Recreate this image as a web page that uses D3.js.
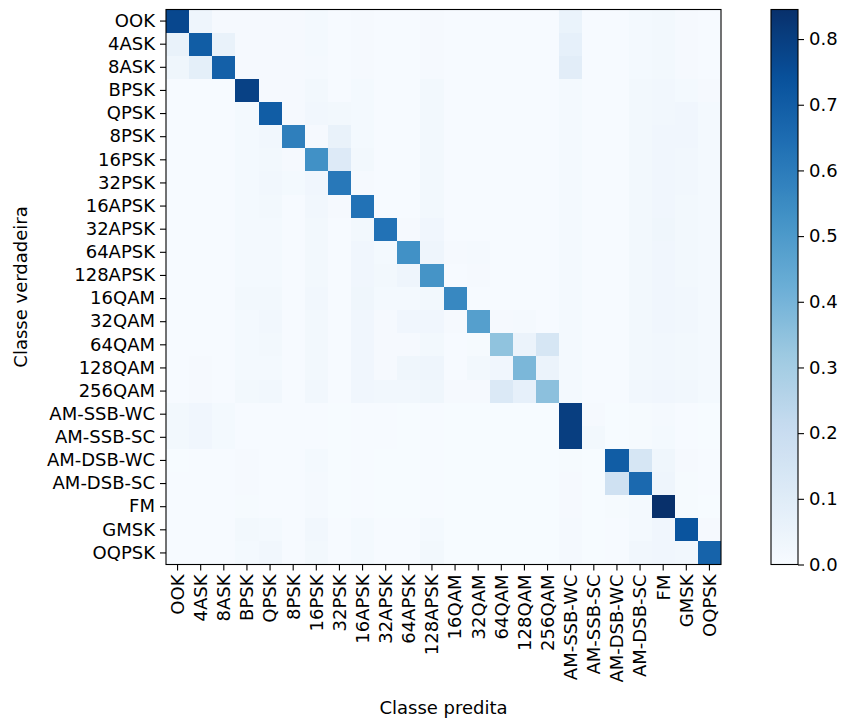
<!DOCTYPE html>
<html>
<head>
<meta charset="utf-8">
<script src="https://cdn.jsdelivr.net/npm/d3@7"></script>
<style>
  html, body { margin: 0; padding: 0; background: #ffffff; }
  svg text { font-family: "DejaVu Sans", sans-serif; fill: #000; }
  .axis text { font-size: 18px; }
  .axis path, .axis line { stroke: #000; stroke-width: 1.1; }
</style>
</head>
<body>
<svg id="chart" width="845" height="722"></svg>
<script>
// Modulation classes (rows = true class, columns = predicted class)
const classes = ["OOK","4ASK","8ASK","BPSK","QPSK","8PSK","16PSK","32PSK","16APSK","32APSK",
  "64APSK","128APSK","16QAM","32QAM","64QAM","128QAM","256QAM","AM-SSB-WC","AM-SSB-SC",
  "AM-DSB-WC","AM-DSB-SC","FM","GMSK","OQPSK"];

// Normalised confusion matrix, one row per true class
const rowOOK      = [0.77,0.04,0.01,0.01,0.01,0.01,0.015,0.005,0.01,0.005,0.005,0.01,0.005,0.005,0.005,0.005,0.005,0.055,0.005,0.005,0.015,0.02,0.01,0.005];
const row4ASK     = [0.06,0.70,0.06,0.01,0.01,0.01,0.015,0.005,0.01,0.005,0.005,0.01,0.005,0.005,0.005,0.005,0.005,0.07,0.005,0.005,0.015,0.02,0.01,0.005];
const row8ASK     = [0.035,0.08,0.69,0.01,0.01,0.01,0.012,0.005,0.01,0.005,0.005,0.01,0.005,0.005,0.005,0.005,0.005,0.09,0.005,0.005,0.015,0.02,0.01,0.005];
const rowBPSK     = [0.005,0.005,0.005,0.79,0.01,0.01,0.02,0.005,0.015,0.005,0.005,0.02,0.005,0.005,0.005,0.005,0.005,0.015,0.005,0.005,0.02,0.025,0.015,0.01];
const rowQPSK     = [0.005,0.005,0.005,0.015,0.70,0.01,0.025,0.02,0.015,0.005,0.005,0.02,0.005,0.005,0.005,0.005,0.005,0.015,0.005,0.005,0.02,0.025,0.03,0.015];
const row8PSK     = [0.005,0.005,0.005,0.015,0.025,0.59,0.01,0.06,0.015,0.005,0.005,0.02,0.005,0.005,0.005,0.005,0.005,0.015,0.005,0.005,0.02,0.03,0.03,0.015];
const row16PSK    = [0.005,0.005,0.005,0.015,0.02,0.01,0.53,0.11,0.02,0.005,0.005,0.02,0.005,0.005,0.005,0.005,0.005,0.015,0.005,0.005,0.02,0.03,0.025,0.015];
const row32PSK    = [0.005,0.005,0.005,0.015,0.025,0.015,0.03,0.61,0.01,0.005,0.005,0.02,0.005,0.005,0.005,0.005,0.005,0.015,0.005,0.005,0.02,0.03,0.025,0.015];
const row16APSK   = [0.005,0.005,0.005,0.015,0.02,0.005,0.025,0.01,0.63,0.005,0.005,0.02,0.005,0.005,0.005,0.005,0.005,0.015,0.005,0.005,0.02,0.03,0.02,0.015];
const row32APSK   = [0.005,0.005,0.005,0.015,0.015,0.005,0.02,0.005,0.02,0.63,0.01,0.03,0.005,0.005,0.005,0.005,0.005,0.015,0.005,0.005,0.02,0.035,0.02,0.015];
const row64APSK   = [0.005,0.005,0.005,0.015,0.015,0.005,0.02,0.005,0.03,0.015,0.53,0.04,0.01,0.012,0.005,0.005,0.005,0.015,0.005,0.005,0.02,0.03,0.02,0.015];
const row128APSK  = [0.005,0.005,0.005,0.015,0.015,0.005,0.02,0.005,0.03,0.02,0.04,0.52,0.005,0.01,0.005,0.005,0.005,0.015,0.005,0.005,0.02,0.03,0.02,0.015];
const row16QAM    = [0.005,0.005,0.005,0.02,0.02,0.005,0.025,0.005,0.035,0.015,0.015,0.02,0.56,0.005,0.005,0.005,0.005,0.015,0.005,0.005,0.02,0.03,0.025,0.015];
const row32QAM    = [0.005,0.005,0.005,0.015,0.025,0.005,0.02,0.005,0.03,0.01,0.03,0.03,0.01,0.48,0.01,0.012,0.005,0.015,0.005,0.005,0.02,0.03,0.025,0.015];
const row64QAM    = [0.005,0.005,0.005,0.015,0.02,0.005,0.02,0.005,0.03,0.01,0.01,0.02,0.005,0.008,0.345,0.05,0.14,0.015,0.005,0.005,0.02,0.025,0.02,0.015];
const row128QAM   = [0.005,0.01,0.005,0.015,0.015,0.005,0.02,0.005,0.03,0.01,0.035,0.04,0.005,0.02,0.03,0.39,0.05,0.015,0.005,0.005,0.02,0.025,0.02,0.015];
const row256QAM   = [0.005,0.01,0.005,0.02,0.025,0.005,0.025,0.005,0.03,0.025,0.025,0.035,0.01,0.01,0.12,0.07,0.355,0.015,0.005,0.005,0.025,0.03,0.025,0.015];
const rowAMSSBWC  = [0.02,0.03,0.015,0.005,0.005,0.005,0.005,0.003,0.005,0.005,0.003,0.005,0.003,0.003,0.003,0.003,0.003,0.80,0.01,0.003,0.008,0.012,0.005,0.003];
const rowAMSSBSC  = [0.02,0.03,0.015,0.005,0.005,0.005,0.005,0.003,0.005,0.005,0.003,0.005,0.003,0.003,0.003,0.003,0.003,0.80,0.02,0.003,0.008,0.015,0.005,0.003];
const rowAMDSBWC  = [0.003,0.005,0.005,0.01,0.005,0.005,0.015,0.003,0.005,0.003,0.003,0.005,0.003,0.003,0.003,0.003,0.003,0.008,0.003,0.70,0.14,0.035,0.01,0.005];
const rowAMDSBSC  = [0.005,0.005,0.005,0.01,0.005,0.005,0.012,0.003,0.005,0.003,0.003,0.005,0.003,0.003,0.003,0.003,0.003,0.01,0.003,0.17,0.66,0.04,0.008,0.005];
const rowFM       = [0.005,0.005,0.005,0.008,0.005,0.005,0.012,0.003,0.005,0.003,0.003,0.005,0.003,0.003,0.003,0.003,0.003,0.01,0.003,0.008,0.015,0.845,0.008,0.003];
const rowGMSK     = [0.005,0.005,0.005,0.02,0.015,0.005,0.025,0.005,0.015,0.005,0.005,0.015,0.003,0.003,0.003,0.003,0.003,0.012,0.003,0.005,0.015,0.03,0.73,0.01];
const rowOQPSK    = [0.005,0.005,0.005,0.015,0.025,0.005,0.02,0.005,0.015,0.005,0.005,0.02,0.003,0.003,0.003,0.003,0.003,0.012,0.003,0.005,0.025,0.03,0.025,0.68];

const matrix = [rowOOK,row4ASK,row8ASK,rowBPSK,rowQPSK,row8PSK,row16PSK,row32PSK,row16APSK,
  row32APSK,row64APSK,row128APSK,row16QAM,row32QAM,row64QAM,row128QAM,row256QAM,rowAMSSBWC,
  rowAMSSBSC,rowAMDSBWC,rowAMDSBSC,rowFM,rowGMSK,rowOQPSK];

const colorbarTicks = [0.0,0.1,0.2,0.3,0.4,0.5,0.6,0.7,0.8];
const xTitle = "Classe predita";
const yTitle = "Classe verdadeira";

// Sequential blue palette
const bluesStops = ["#f7fbff","#deebf7","#c6dbef","#9ecae1","#6baed6","#4292c6","#2171b5","#08519c","#08306b"];

const svg = d3.select("#chart");

const plot = { left: 166, right: 721, top: 9.5, bottom: 564.5 };
const vmax = d3.max(matrix, r => d3.max(r));
const vmin = 0;

const color = d3.scaleLinear()
  .domain(bluesStops.map((_, i) => vmin + (vmax - vmin) * i / (bluesStops.length - 1)))
  .range(bluesStops)
  .interpolate(d3.interpolateRgb)
  .clamp(true);

const x = d3.scaleBand().domain(classes).range([plot.left, plot.right]).padding(0);
const y = d3.scaleBand().domain(classes).range([plot.top, plot.bottom]).padding(0);

const cells = [];
matrix.forEach((row, i) => row.forEach((v, j) => cells.push({ t: classes[i], p: classes[j], v })));

svg.append("g")
  .selectAll("rect")
  .data(cells)
  .join("rect")
  .attr("x", d => x(d.p))
  .attr("y", d => y(d.t))
  .attr("width", x.bandwidth() + 0.3)
  .attr("height", y.bandwidth() + 0.3)
  .attr("fill", d => color(d.v))
  .attr("shape-rendering", "crispEdges");

// Frame
svg.append("rect")
  .attr("x", plot.left).attr("y", plot.top)
  .attr("width", plot.right - plot.left).attr("height", plot.bottom - plot.top)
  .attr("fill", "none").attr("stroke", "#000").attr("stroke-width", 1.1);

// Axes
const xAxis = svg.append("g")
  .attr("class", "axis")
  .attr("transform", `translate(0,${plot.bottom})`)
  .call(d3.axisBottom(x).tickSize(6).tickPadding(4));
xAxis.attr("font-family", null).attr("font-size", null);
xAxis.select(".domain").remove();
xAxis.selectAll("text")
  .attr("transform", "rotate(-90)")
  .attr("x", -10).attr("y", 0)
  .attr("dy", "0.35em")
  .style("text-anchor", "end");

const yAxis = svg.append("g")
  .attr("class", "axis")
  .attr("transform", `translate(${plot.left},0)`)
  .call(d3.axisLeft(y).tickSize(6).tickPadding(5));
yAxis.attr("font-family", null).attr("font-size", null);
yAxis.select(".domain").remove();

// Axis titles
svg.append("text")
  .attr("x", (plot.left + plot.right) / 2)
  .attr("y", 714)
  .attr("text-anchor", "middle")
  .style("font-size", "18px")
  .text(xTitle);

svg.append("text")
  .attr("transform", `translate(27,${(plot.top + plot.bottom) / 2}) rotate(-90)`)
  .attr("text-anchor", "middle")
  .style("font-size", "18px")
  .text(yTitle);

// Colour bar
const cb = { left: 771, right: 798, top: plot.top, bottom: plot.bottom };
const defs = svg.append("defs");
const grad = defs.append("linearGradient")
  .attr("id", "cbgrad")
  .attr("x1", "0").attr("y1", "1").attr("x2", "0").attr("y2", "0");
d3.range(0, 1.0001, 0.02).forEach(t => {
  grad.append("stop")
    .attr("offset", t)
    .attr("stop-color", color(vmin + t * (vmax - vmin)));
});
svg.append("rect")
  .attr("x", cb.left).attr("y", cb.top)
  .attr("width", cb.right - cb.left).attr("height", cb.bottom - cb.top)
  .attr("fill", "url(#cbgrad)")
  .attr("stroke", "#000").attr("stroke-width", 1.1);

const cbScale = d3.scaleLinear().domain([vmin, vmax]).range([cb.bottom, cb.top]);
const cbAxis = svg.append("g")
  .attr("class", "axis")
  .attr("transform", `translate(${cb.right},0)`)
  .call(d3.axisRight(cbScale).tickValues(colorbarTicks).tickFormat(d3.format(".1f")).tickSize(6).tickPadding(5));
cbAxis.attr("font-family", null).attr("font-size", null);
cbAxis.select(".domain").remove();
</script>
</body>
</html>
